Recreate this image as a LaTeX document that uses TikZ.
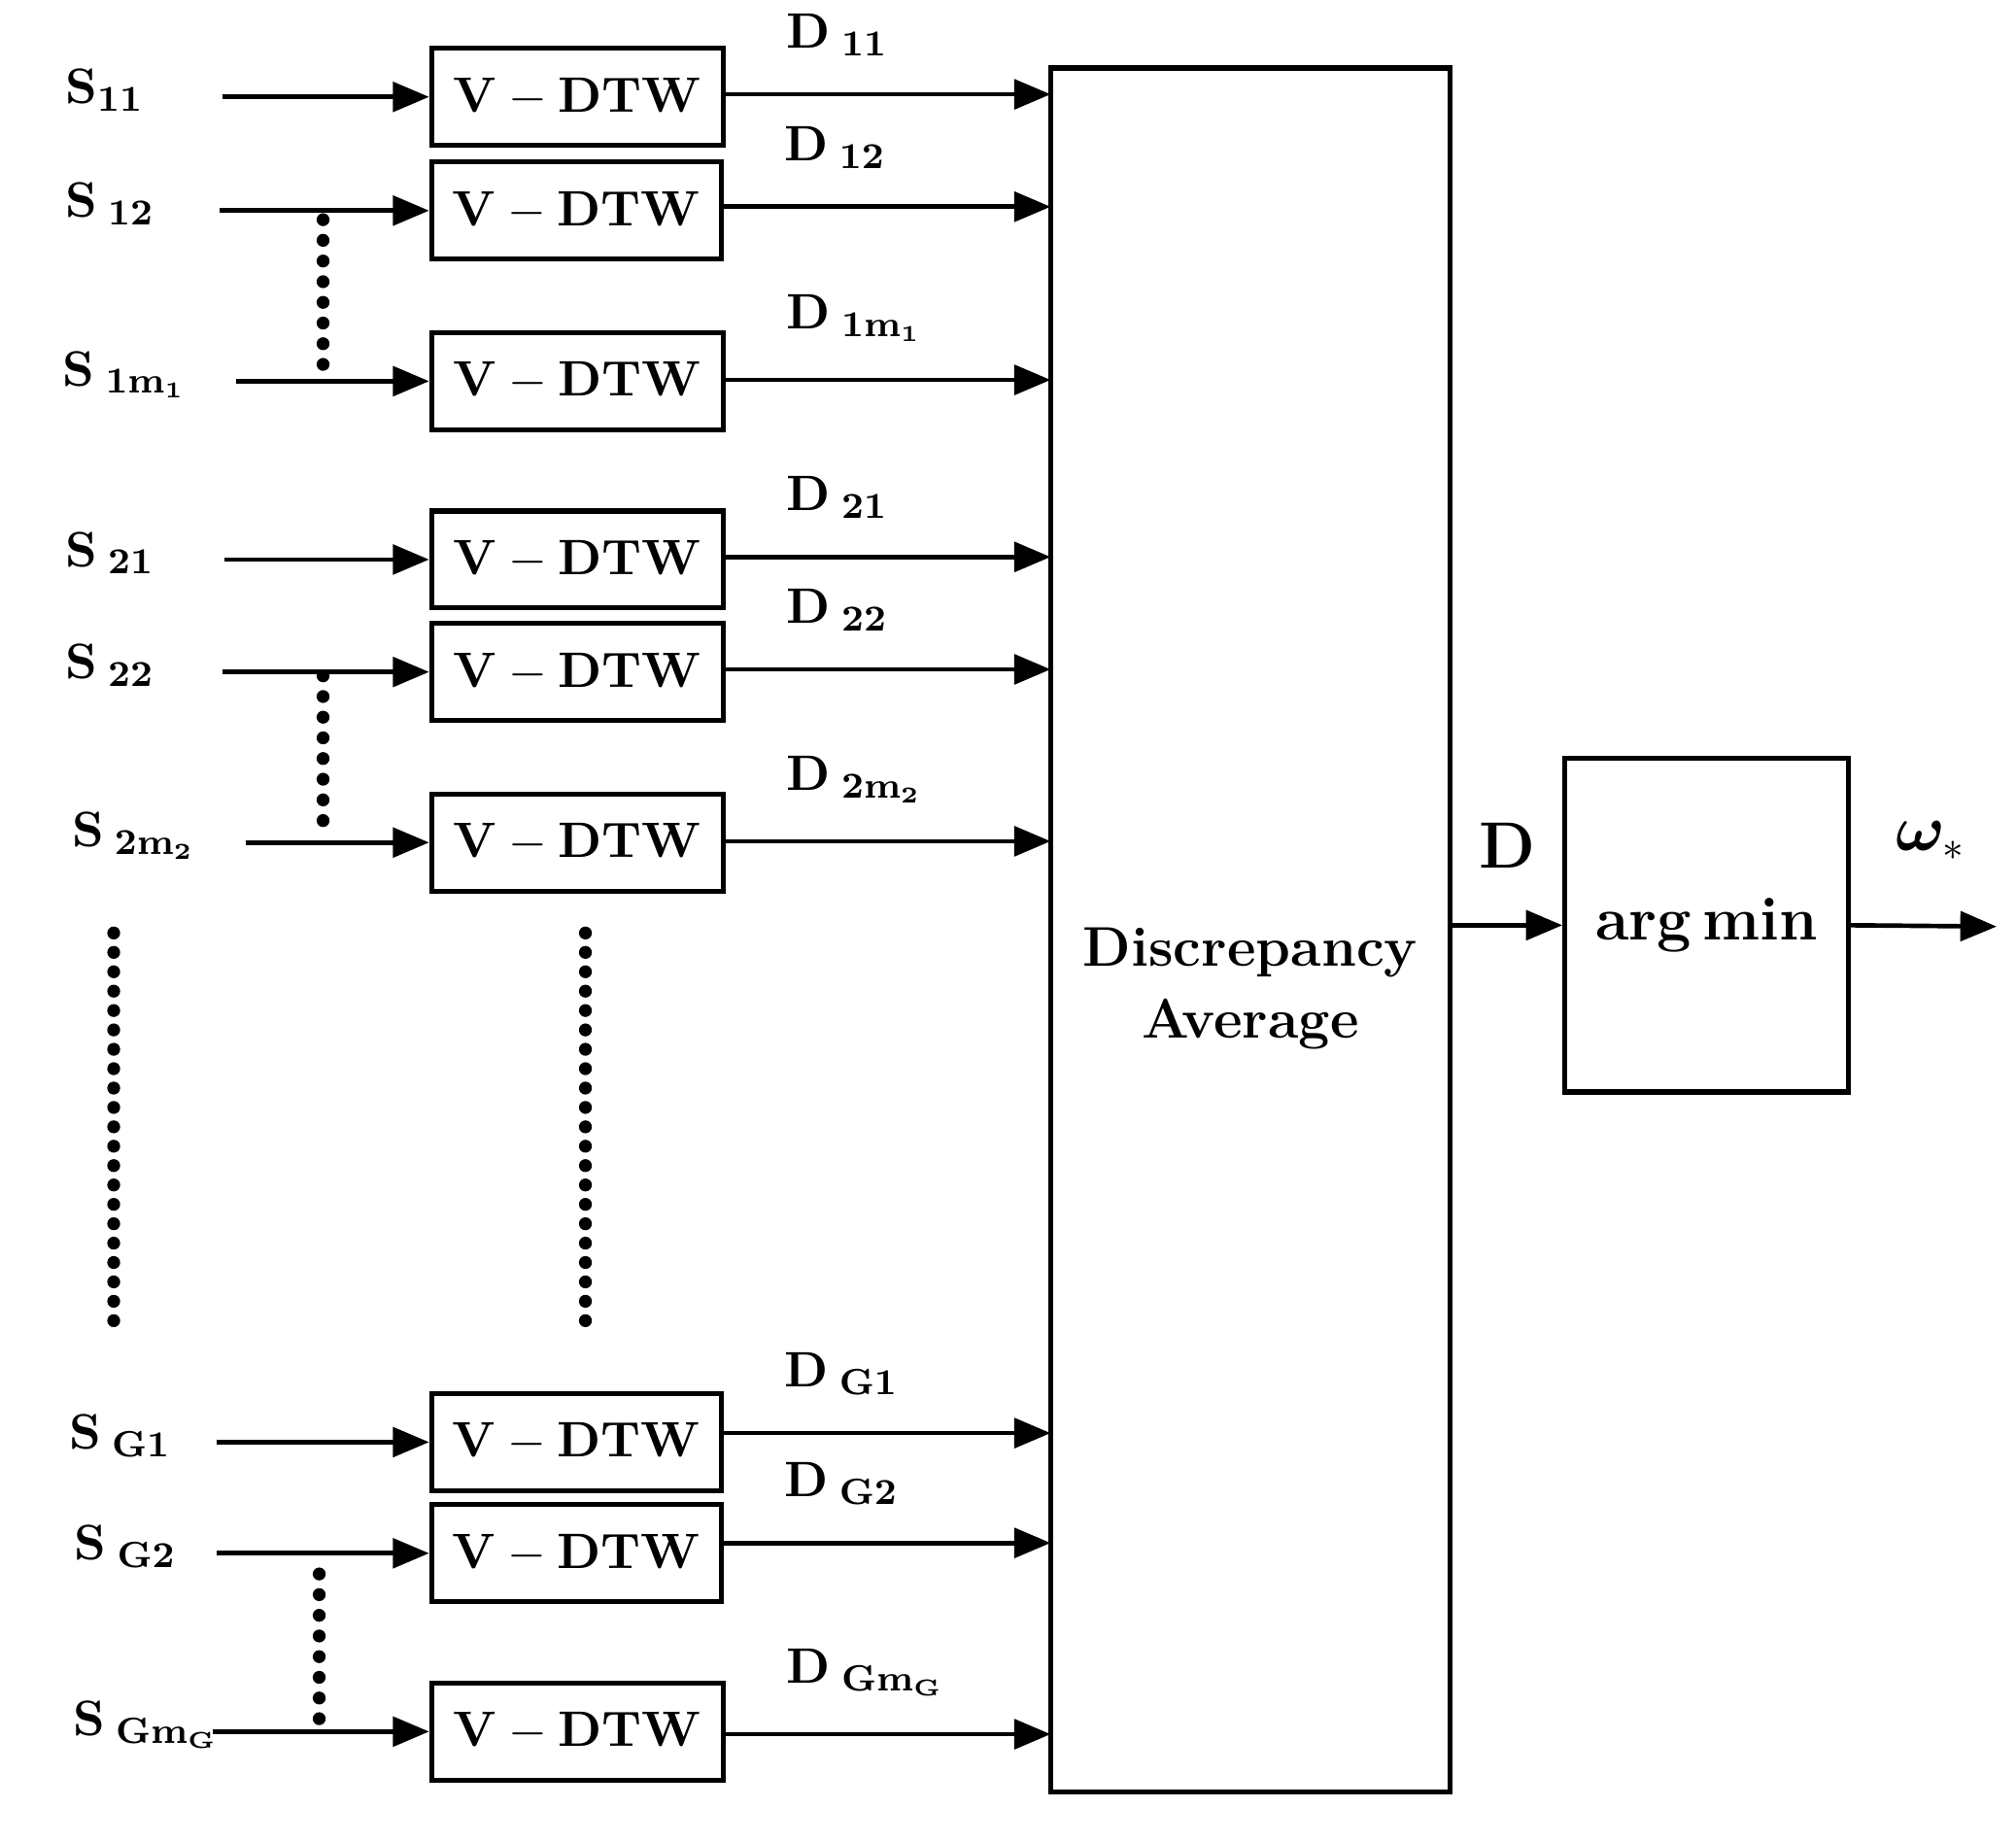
\documentclass[tikz,border=0pt]{standalone}
\usepackage{amsmath,bm}
\usetikzlibrary{arrows.meta}
\begin{document}
\begin{tikzpicture}[x=0.01cm,y=-0.01cm,
 box/.style={draw,line width=1.1pt,inner sep=0pt},
 arr/.style={-{Triangle[length=8pt,width=6.5pt]},line width=1pt},
 lab/.style={font=\fontsize{10.8}{13}\selectfont,inner sep=0pt},
 dot/.style={fill,circle,inner sep=0pt,minimum size=0.1cm}]
\useasboundingbox (0,0) rectangle (1560,1425);
\foreach \i/\y/\t/\xa/\xr/\sx/\sl/\dl in {
 1/75/73/172/560/50/{\mathbf{S}_{\mathbf{11}}}/{\mathbf{D}_{\;\mathbf{11}}},
 2/163/160/170/558/50/{\mathbf{S}_{\;\mathbf{12}}}/{\mathbf{D}_{\;\mathbf{12}}},
 3/295/294/183/560/48/{\mathbf{S}_{\;\mathbf{1m_1}}}/{\mathbf{D}_{\;\mathbf{1m_1}}},
 4/433/431/174/560/50/{\mathbf{S}_{\;\mathbf{21}}}/{\mathbf{D}_{\;\mathbf{21}}},
 5/520/518/172/560/50/{\mathbf{S}_{\;\mathbf{22}}}/{\mathbf{D}_{\;\mathbf{22}}},
 6/652/651/190/560/55/{\mathbf{S}_{\;\mathbf{2m_2}}}/{\mathbf{D}_{\;\mathbf{2m_2}}},
 7/1116/1109/168/558/53/{\mathbf{S}_{\;\mathbf{G1}}}/{\mathbf{D}_{\;\mathbf{G1}}},
 8/1202/1194/168/558/57/{\mathbf{S}_{\;\mathbf{G2}}}/{\mathbf{D}_{\;\mathbf{G2}}},
 9/1340/1342/165/560/56/{\mathbf{S}_{\;\mathbf{Gm_G}}}/{\mathbf{D}_{\;\mathbf{Gm_G}}}}{
 \node[box,minimum width={(\xr-334)*0.01cm},minimum height=0.75cm,font=\fontsize{10.8}{12}\selectfont] (v\i) at ({(334+\xr)/2},\y) {$\mathbf{V-DTW}$};
 \coordinate (s\i) at (\xa,\y);
 \node[lab,anchor=west] (sl\i) at (\sx,{\y-5}) {$\sl$};
 \coordinate (e\i) at (813,\t);
 \draw[arr] (s\i) -- (v\i.west);
 \draw[arr] (v\i.east|-e\i) -- (e\i) node[lab,pos=0.18,anchor=south west,yshift=8pt] {$\dl$};
}
\node[box,minimum width=3.09cm,minimum height=13.33cm,align=center,font=\fontsize{12.3}{16}\selectfont\bfseries] (da) at (967.5,719.5) {};
\node[align=center,font=\fontsize{12.3}{16}\selectfont\bfseries] (dat) at (967.5,765) {Discrepancy\\Average};
\node[box,minimum width=2.19cm,minimum height=2.58cm,font=\fontsize{13.5}{16}\selectfont\bfseries] (am) at (1320.5,716) {arg\,min};
\coordinate (o) at (1545,717);
\draw[arr] (da.east|-am.west) -- (am.west) node[lab,midway,above,yshift=12pt,font=\fontsize{13.5}{16}\selectfont] {$\mathbf{D}$};
\draw[arr] (am.east) -- (o) node[lab,pos=0.55,above,yshift=14pt,font=\fontsize{13.5}{16}\selectfont] {$\bm{\omega}_{*}$};
\foreach \y in {170,186,...,285} \node[dot] at (250,\y) {};
\foreach \y in {523,539,...,637} \node[dot] at (250,\y) {};
\foreach \y in {1218,1234,...,1330} \node[dot] at (247,\y) {};
\foreach \y in {722,737,...,1030} {\node[dot] at (88,\y) {}; \node[dot] at (453,\y) {};}
\end{tikzpicture}
\end{document}
